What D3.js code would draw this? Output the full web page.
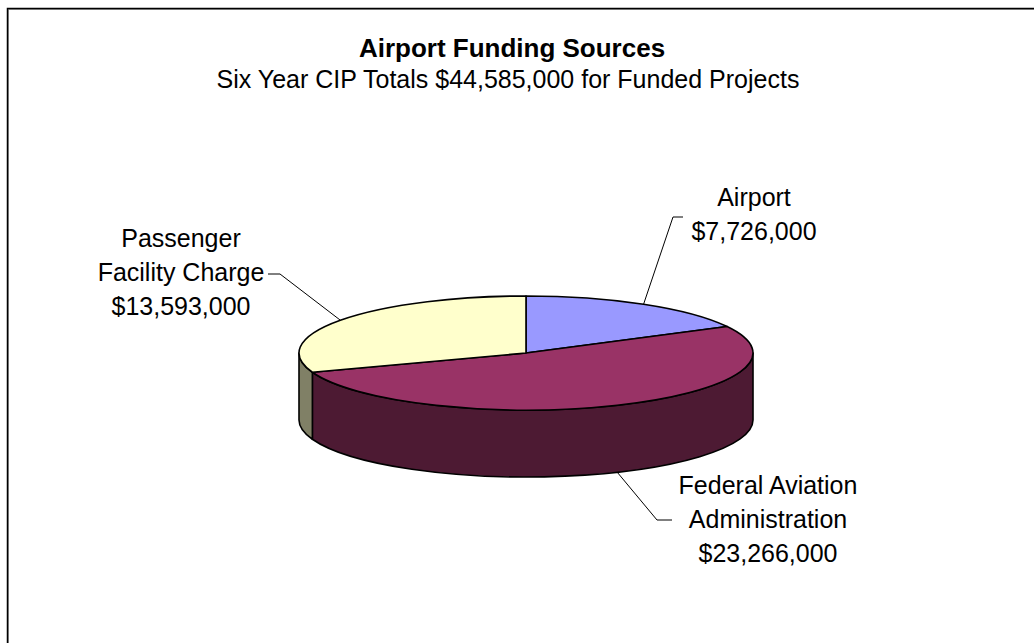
<!DOCTYPE html>
<html>
<head>
<meta charset="utf-8">
<script src="https://cdn.jsdelivr.net/npm/d3@7"></script>
<style>
  body { margin: 0; background: #fff; }
  svg { display: block; }
  text { font-family: "Liberation Sans", Arial, sans-serif; fill: #000; }
</style>
</head>
<body>
<svg id="chart" width="1034" height="643"></svg>
<script>
// data
const categories = ["Airport", "Federal Aviation Administration", "Passenger Facility Charge"];
const labelLines = [["Airport"], ["Federal Aviation", "Administration"], ["Passenger", "Facility Charge"]];
const values = [7726000, 23266000, 13593000];
const topColors = ["#9999ff", "#993366", "#ffffcc"];
const sideColors = ["#4d4d80", "#4d1a33", "#808066"];
const title = "Airport Funding Sources";
const subtitle = "Six Year CIP Totals $44,585,000 for Funded Projects";

// layout
const cx = 526, cy = 353, rx = 227, ry = 57, depth = 67;
const fmt = d3.format("$,");
// label placement: text centre x, first baseline y, leader elbow and tail
const labelPos = [
    { x: 754, y: 206, elbow: [673, 217], tail: [683, 217], onSide: false },
    { x: 768, y: 494, elbow: [657, 520], tail: [672, 520], onSide: true },
    { x: 181, y: 247, elbow: [280, 274], tail: [268, 274], onSide: false }
];

const svg = d3.select("#chart");

// frame with a light shadow
svg.append("rect")
    .attr("x", 8.5).attr("y", 9.5)
    .attr("width", 1100).attr("height", 700)
    .attr("fill", "none").attr("stroke", "#9a9a9a").attr("stroke-width", 1);
svg.append("rect")
    .attr("x", 7.5).attr("y", 8.5)
    .attr("width", 1100).attr("height", 700)
    .attr("fill", "none").attr("stroke", "#000").attr("stroke-width", 1.5);

svg.append("text")
    .attr("x", 512).attr("y", 57)
    .attr("text-anchor", "middle")
    .style("font-size", "26px").style("font-weight", "bold")
    .text(title);
svg.append("text")
    .attr("x", 508).attr("y", 88)
    .attr("text-anchor", "middle")
    .style("font-size", "25px")
    .text(subtitle);

const pie = d3.pie().sort(null).value(d => d)(values);

const pt = (a, dy = 0) => [cx + rx * Math.sin(a), cy - ry * Math.cos(a) + dy];

// visible outer wall: front half, from 90deg to 270deg
const lo = Math.PI / 2, hi = 3 * Math.PI / 2;
const g = svg.append("g");

pie.forEach((s, i) => {
    const a0 = Math.max(s.startAngle, lo), a1 = Math.min(s.endAngle, hi);
    if (a1 <= a0) return;
    const p0 = pt(a0), p1 = pt(a1), q1 = pt(a1, depth), q0 = pt(a0, depth);
    const large = (a1 - a0) > Math.PI ? 1 : 0;
    const path = `M${p0}A${rx},${ry} 0 ${large} 1 ${p1}L${q1}A${rx},${ry} 0 ${large} 0 ${q0}Z`;
    g.append("path")
        .attr("d", path)
        .attr("fill", sideColors[i])
        .attr("stroke", "#000").attr("stroke-width", 1.6)
        .attr("stroke-linejoin", "round");
});

pie.forEach((s, i) => {
    const p0 = pt(s.startAngle), p1 = pt(s.endAngle);
    const large = (s.endAngle - s.startAngle) > Math.PI ? 1 : 0;
    const path = `M${cx},${cy}L${p0}A${rx},${ry} 0 ${large} 1 ${p1}Z`;
    g.append("path")
        .attr("d", path)
        .attr("fill", topColors[i])
        .attr("stroke", "#000").attr("stroke-width", 1.6)
        .attr("stroke-linejoin", "round");
});

// labels and leader lines
pie.forEach((s, i) => {
    const lp = labelPos[i];
    const mid = (s.startAngle + s.endAngle) / 2;
    const anchor = pt(mid, lp.onSide ? depth : 0);
    svg.append("polyline")
        .attr("points", [anchor, lp.elbow, lp.tail].map(p => p.join(",")).join(" "))
        .attr("fill", "none").attr("stroke", "#000").attr("stroke-width", 1);

    const lines = labelLines[i].concat([fmt(values[i])]);
    const t = svg.append("text")
        .attr("text-anchor", "middle")
        .style("font-size", "25px");
    lines.forEach((ln, j) => {
        t.append("tspan")
            .attr("x", lp.x)
            .attr("y", lp.y + j * 34)
            .text(ln);
    });
});
</script>
</body>
</html>
